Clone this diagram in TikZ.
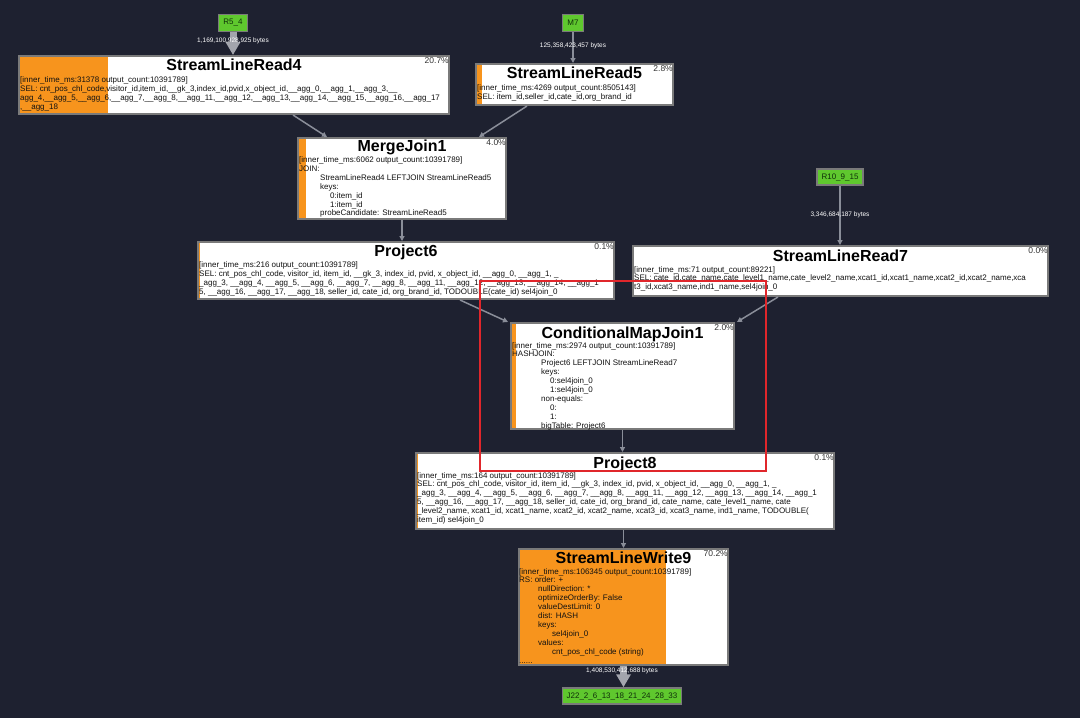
\documentclass[tikz,border=0pt]{standalone}
\usepackage{fontspec}
\setmainfont{Liberation Sans}
\usetikzlibrary{arrows.meta,calc}
\definecolor{bg}{HTML}{1E2130}
\definecolor{boxgray}{HTML}{7A7A7A}
\definecolor{orf}{HTML}{F7941D}
\definecolor{grn}{HTML}{5FC82E}
\definecolor{arr}{HTML}{8A8E99}
\definecolor{bigarr}{HTML}{A3A5AD}
\definecolor{txt}{HTML}{111111}
\definecolor{pctc}{HTML}{333333}
\definecolor{annot}{HTML}{E0262B}
\definecolor{srctxt}{HTML}{10300A}
\begin{document}
\begin{tikzpicture}[x=1pt,y=-1pt,
 opbox/.style={draw=boxgray, line width=2pt, fill=white, rectangle, inner sep=0pt, anchor=north west,
   path picture={\fill[orf] (path picture bounding box.north west) rectangle ([xshift=#1]path picture bounding box.south west);}},
 ttl/.style={anchor=base, inner sep=0pt, font=\fontsize{16}{16}\selectfont\bfseries, text=black},
 pct/.style={anchor=north east, inner sep=0pt, font=\fontsize{8.5}{8.5}\selectfont, text=pctc},
 body/.style={anchor=north west, inner sep=0pt, align=left, font=\fontsize{8}{8.9}\selectfont, text=txt},
 src/.style={draw=boxgray, line width=1.5pt, fill=grn, inner sep=0pt, font=\fontsize{8}{8}\selectfont, text=srctxt},
 conn/.style={draw=arr, line width=1.5pt, -{Triangle[width=5pt,length=5pt]}},
 bigconn/.style={draw=bigarr, line width=7pt, -{Triangle[width=14pt,length=13pt]}},
 vol/.style={font=\fontsize{6.5}{6.5}\selectfont, text=white, inner sep=0pt},
]
\fill[bg] (0,0) rectangle (1080,718);
\useasboundingbox (0,0) rectangle (1080,718);

% source / sink nodes
\node[src, minimum width=29pt, minimum height=17pt] (g1) at (233,23) {R5\_4};
\node[src, minimum width=21pt, minimum height=17pt] (g2) at (573,23) {M7};
\node[src, minimum width=46pt, minimum height=16pt] (g3) at (840,177) {R10\_9\_15};
\node[src, minimum width=119pt, minimum height=16pt] (g4) at (622,696) {J22\_2\_6\_13\_18\_21\_24\_28\_33};

% operator boxes
\node[opbox=89pt, minimum width=430pt, minimum height=58pt] (r4) at (18,55) {};
\node[opbox=5.5pt, minimum width=197pt, minimum height=41pt] (r5) at (475,63) {};
\node[opbox=8pt, minimum width=208pt, minimum height=81pt] (mj) at (297,137) {};
\node[opbox=1.5pt, minimum width=416pt, minimum height=57pt] (p6) at (197,241) {};
\node[opbox=0pt, minimum width=415pt, minimum height=50pt] (r7) at (632,245) {};
\node[opbox=4.5pt, minimum width=223pt, minimum height=106pt] (cmj) at (510,322) {};
\node[opbox=1.5pt, minimum width=418pt, minimum height=76pt] (p8) at (415,452) {};
\node[opbox=147pt, minimum width=209pt, minimum height=116pt] (w9) at (518,548) {};

% connectors
\draw[bigconn] (g1.south) -- (g1.south |- r4.north);
\node[vol] (l1) at (233,41) {1,169,100,928,925 bytes};
\draw[conn] (g2.south) -- (g2.south |- r5.north);
\node[vol] (l2) at (573,46) {125,358,423,457 bytes};
\draw[conn] (g3.south) -- (g3.south |- r7.north);
\node[vol] (l3) at (840,215) {3,346,684,187 bytes};
\draw[conn] ([xshift=275pt]r4.south west) -- ([xshift=30pt]mj.north west);
\draw[conn] ([xshift=52pt]r5.south west) -- ([xshift=-28pt]mj.north east);
\draw[conn] (mj.south) -- (mj.south |- p6.north);
\draw[conn] ([xshift=263pt]p6.south west) -- ([xshift=-2pt]cmj.north west);
\draw[conn] ([xshift=146pt]r7.south west) -- ([xshift=2pt]cmj.north east);
\draw[conn] (cmj.south) -- (cmj.south |- p8.north);
\draw[conn] (w9.north |- p8.south) -- (w9.north);
\draw[bigconn] (w9.south) -- (w9.south |- g4.north);
\node[vol] (l4) at (622,671) {1,408,530,412,688 bytes};

% StreamLineRead4
\node[ttl] (r4t) at ([yshift=-15pt]r4.north) {StreamLineRead4};
\node[pct] (r4p) at ([xshift=-1pt,yshift=-2pt]r4.north east) {20.7\%};
\node[body] (r4b) at ([xshift=2pt,yshift=-21.5pt]r4.north west) {{[}inner\_time\_ms:31378 output\_count:10391789]\\
SEL: cnt\_pos\_chl\_code,visitor\_id,item\_id,\_\_gk\_3,index\_id,pvid,x\_object\_id,\_\_agg\_0,\_\_agg\_1,\_\_agg\_3,\_\_\\
agg\_4,\_\_agg\_5,\_\_agg\_6,\_\_agg\_7,\_\_agg\_8,\_\_agg\_11,\_\_agg\_12,\_\_agg\_13,\_\_agg\_14,\_\_agg\_15,\_\_agg\_16,\_\_agg\_17\\
,\_\_agg\_18};

% StreamLineRead5
\node[ttl] (r5t) at ([yshift=-15.5pt]r5.north) {StreamLineRead5};
\node[pct] (r5p) at ([xshift=-1pt,yshift=-2pt]r5.north east) {2.8\%};
\node[body] (r5b) at ([xshift=2pt,yshift=-22pt]r5.north west) {{[}inner\_time\_ms:4269 output\_count:8505143]\\
SEL: item\_id,seller\_id,cate\_id,org\_brand\_id};

% MergeJoin1
\node[ttl] (mjt) at ([yshift=-14.5pt]mj.north) {MergeJoin1};
\node[pct] (mjp) at ([xshift=-1pt,yshift=-2pt]mj.north east) {4.0\%};
\node[body] (mjb) at ([xshift=2pt,yshift=-19.5pt]mj.north west) {{[}inner\_time\_ms:6062 output\_count:10391789]\\
JOIN:\\
\hspace*{21pt}StreamLineRead4 LEFTJOIN StreamLineRead5\\
\hspace*{21pt}keys:\\
\hspace*{31pt}0:item\_id\\
\hspace*{31pt}1:item\_id\\
\hspace*{21pt}probeCandidate: StreamLineRead5};

% Project6
\node[ttl] (p6t) at ([yshift=-15.5pt]p6.north) {Project6};
\node[pct] (p6p) at ([xshift=-1pt,yshift=-2pt]p6.north east) {0.1\%};
\node[body] (p6b) at ([xshift=2pt,yshift=-20.5pt]p6.north west) {{[}inner\_time\_ms:216 output\_count:10391789]\\
SEL: cnt\_pos\_chl\_code, visitor\_id, item\_id, \_\_gk\_3, index\_id, pvid, x\_object\_id, \_\_agg\_0, \_\_agg\_1, \_\\
\_agg\_3, \_\_agg\_4, \_\_agg\_5, \_\_agg\_6, \_\_agg\_7, \_\_agg\_8, \_\_agg\_11, \_\_agg\_12, \_\_agg\_13, \_\_agg\_14, \_\_agg\_1\\
5, \_\_agg\_16, \_\_agg\_17, \_\_agg\_18, seller\_id, cate\_id, org\_brand\_id, TODOUBLE(cate\_id) sel4join\_0};

% StreamLineRead7
\node[ttl] (r7t) at ([yshift=-16pt]r7.north) {StreamLineRead7};
\node[pct] (r7p) at ([xshift=-1pt,yshift=-2pt]r7.north east) {0.0\%};
\node[body] (r7b) at ([xshift=2pt,yshift=-21pt]r7.north west) {{[}inner\_time\_ms:71 output\_count:89221]\\
SEL: cate\_id,cate\_name,cate\_level1\_name,cate\_level2\_name,xcat1\_id,xcat1\_name,xcat2\_id,xcat2\_name,xca\\
t3\_id,xcat3\_name,ind1\_name,sel4join\_0};

% ConditionalMapJoin1
\node[ttl] (cmjt) at ([yshift=-16pt]cmj.north) {ConditionalMapJoin1};
\node[pct] (cmjp) at ([xshift=-1pt,yshift=-2pt]cmj.north east) {2.0\%};
\node[body] (cmjb) at ([xshift=2pt,yshift=-20pt]cmj.north west) {{[}inner\_time\_ms:2974 output\_count:10391789]\\
HASHJOIN:\\
\hspace*{29pt}Project6 LEFTJOIN StreamLineRead7\\
\hspace*{29pt}keys:\\
\hspace*{38pt}0:sel4join\_0\\
\hspace*{38pt}1:sel4join\_0\\
\hspace*{29pt}non-equals:\\
\hspace*{38pt}0:\\
\hspace*{38pt}1:\\
\hspace*{29pt}bigTable: Project6};

% Project8
\node[ttl] (p8t) at ([yshift=-16pt]p8.north) {Project8};
\node[pct] (p8p) at ([xshift=-1pt,yshift=-2pt]p8.north east) {0.1\%};
\node[body] (p8b) at ([xshift=2pt,yshift=-20pt]p8.north west) {{[}inner\_time\_ms:164 output\_count:10391789]\\
SEL: cnt\_pos\_chl\_code, visitor\_id, item\_id, \_\_gk\_3, index\_id, pvid, x\_object\_id, \_\_agg\_0, \_\_agg\_1, \_\\
\_agg\_3, \_\_agg\_4, \_\_agg\_5, \_\_agg\_6, \_\_agg\_7, \_\_agg\_8, \_\_agg\_11, \_\_agg\_12, \_\_agg\_13, \_\_agg\_14, \_\_agg\_1\\
5, \_\_agg\_16, \_\_agg\_17, \_\_agg\_18, seller\_id, cate\_id, org\_brand\_id, cate\_name, cate\_level1\_name, cate\\
\_level2\_name, xcat1\_id, xcat1\_name, xcat2\_id, xcat2\_name, xcat3\_id, xcat3\_name, ind1\_name, TODOUBLE(\\
item\_id) sel4join\_0};

% StreamLineWrite9
\node[ttl] (w9t) at ([yshift=-15.5pt]w9.north) {StreamLineWrite9};
\node[pct] (w9p) at ([xshift=-1pt,yshift=-2pt]w9.north east) {70.2\%};
\node[body] (w9b) at ([xshift=1pt,yshift=-20pt]w9.north west) {{[}inner\_time\_ms:106345 output\_count:10391789]\\
RS: order: +\\
\hspace*{19pt}nullDirection: *\\
\hspace*{19pt}optimizeOrderBy: False\\
\hspace*{19pt}valueDestLimit: 0\\
\hspace*{19pt}dist: HASH\\
\hspace*{19pt}keys:\\
\hspace*{33pt}sel4join\_0\\
\hspace*{19pt}values:\\
\hspace*{33pt}cnt\_pos\_chl\_code (string)\\
......};

% red annotation frame
\draw[annot, line width=2pt] (480,281) rectangle (766,471);
\end{tikzpicture}
\end{document}
